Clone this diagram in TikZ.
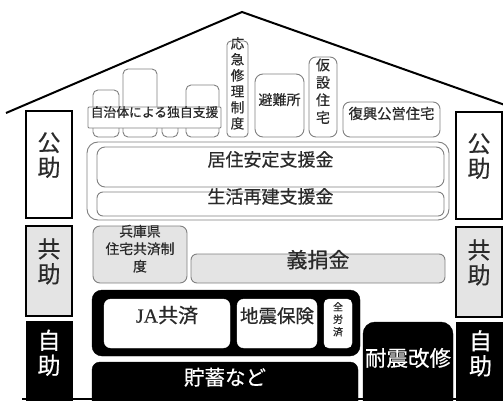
\documentclass[tikz,border=0pt]{standalone}
\usepackage{fontspec}
\setmainfont{Noto Sans CJK JP}[FakeBold=0.5]
\newfontfamily\jaserif{Liberation Serif}[FakeBold=0.3]
\usetikzlibrary{fit}
\definecolor{txt}{HTML}{2A2A2A}
\definecolor{edge}{HTML}{808080}
\definecolor{dots}{HTML}{E4E4E4}
\tikzset{
  thinbox/.style={draw=edge,line width=0.9pt,fill=white,rounded corners=5pt,inner sep=0pt,text=txt},
  pubside/.style={draw=black,line width=2pt,fill=white,inner sep=0pt,text=txt,font=\fontsize{23}{25}\selectfont,align=center},
  kyoside/.style={draw=black,line width=1.6pt,fill=dots,inner sep=0pt,text=txt,font=\fontsize{23}{25}\selectfont,align=center},
  jiside/.style={draw=black,line width=1pt,fill=black,inner sep=0pt,text=white,font=\fontsize{23}{25}\selectfont,align=center},
  dotbox/.style={draw=edge,line width=0.9pt,fill=dots,rounded corners=7pt,inner sep=0pt,text=txt},
  blackbox/.style={draw=black,fill=black,rounded corners=10pt,inner sep=0pt,text=white},
  whitebox/.style={draw=white,fill=white,rounded corners=7pt,inner sep=0pt,text=txt},
}
\newcommand\bx[7]{\node[#1,fit={(#3,#4) (#5,#6)}] (#2) {#7};}
\begin{document}
\begin{tikzpicture}[x=1pt,y=-1pt]
\useasboundingbox (0,0) rectangle (503,401);
\begin{scope}
\clip (0,0) rectangle (503,401);
% roof
\coordinate (rl) at (6,113);
\coordinate (ra) at (242,12);
\coordinate (rr) at (505,105);
\draw[line width=2pt,line join=miter] (rl) -- (ra) -- (rr);
% side labels
\bx{pubside}{lp}{26}{111}{72}{218}{公\\助}
\bx{pubside}{rp}{456}{112}{502}{219}{公\\助}
\bx{kyoside}{lk}{26}{226}{72}{316}{共\\助}
\bx{kyoside}{rk}{456}{227}{502}{317}{共\\助}
\bx{jiside}{lj}{26}{321}{72}{404}{自\\助}
\bx{jiside}{rj}{456}{322}{505}{404}{自\\助}
% top row
\bx{thinbox}{b1}{93}{90}{119}{137}{}
\bx{thinbox}{b2}{123}{69}{157}{137}{}
\bx{thinbox}{b3}{162}{118}{178}{137}{}
\bx{thinbox}{b4}{186}{85}{219}{137}{}
\bx{thinbox,rounded corners=1pt,font=\fontsize{12.8}{14}\selectfont}{jichi}{88}{107}{221}{128}{自治体による独自支援}
\bx{thinbox,rounded corners=4pt,font=\fontsize{13.5}{16}\selectfont,align=center}{oukyu}{227}{41}{248}{137}{応\\急\\修\\理\\制\\度}
\bx{thinbox,rounded corners=8pt,font=\fontsize{14}{16}\selectfont}{hinan}{255}{74}{304}{137}{避難所}
\bx{thinbox,rounded corners=7pt,font=\fontsize{14}{17.5}\selectfont,align=center}{kasetsu}{309}{57}{337}{137}{仮\\設\\住\\宅}
\bx{thinbox,rounded corners=7pt,font=\fontsize{14.3}{16}\selectfont}{fukko}{343}{102}{440}{137}{復興公営住宅}
% public support
\bx{thinbox,rounded corners=11pt}{outer}{87}{142}{449}{220}{}
\bx{thinbox,rounded corners=8pt,font=\fontsize{18}{20}\selectfont}{kyoju}{97}{147}{444}{187}{居住安定支援金}
\bx{thinbox,rounded corners=6pt,font=\fontsize{18}{20}\selectfont}{seikatsu}{97}{192}{444}{216}{生活再建支援金}
% mutual
\bx{dotbox,font=\fontsize{13.8}{17.5}\selectfont,align=center}{hyogo}{93}{226}{187}{283}{兵庫県\\住宅共済制\\度}
\bx{dotbox,rounded corners=6pt,font=\fontsize{21}{22}\selectfont}{gien}{191}{254}{445}{283}{義捐金}
% self
\bx{blackbox}{jaouter}{92}{290}{360}{356}{}
\bx{whitebox,font=\fontsize{20}{21}\selectfont}{ja}{104}{299}{230}{348}{{\jaserif JA}共済}
\bx{whitebox,font=\fontsize{18.5}{21}\selectfont}{jishin}{237}{299}{317}{348}{地震保険}
\bx{whitebox,rounded corners=5pt,font=\fontsize{10}{12.5}\selectfont,align=center}{zenrosai}{324}{299}{352}{348}{全\\労\\済}
\bx{blackbox,rounded corners=8pt,font=\fontsize{20.5}{22}\selectfont}{chochiku}{92}{362}{358}{412}{\raisebox{2pt}{貯蓄など}}
\bx{blackbox,rounded corners=12pt,font=\fontsize{21.5}{22}\selectfont}{taishin}{363}{322}{453}{412}{耐震改修}
% ground
\coordinate (g1) at (22,399);
\coordinate (g2) at (505,399);
\draw[line width=1.5pt] (g1) -- (g2);
\end{scope}
\end{tikzpicture}
\end{document}
